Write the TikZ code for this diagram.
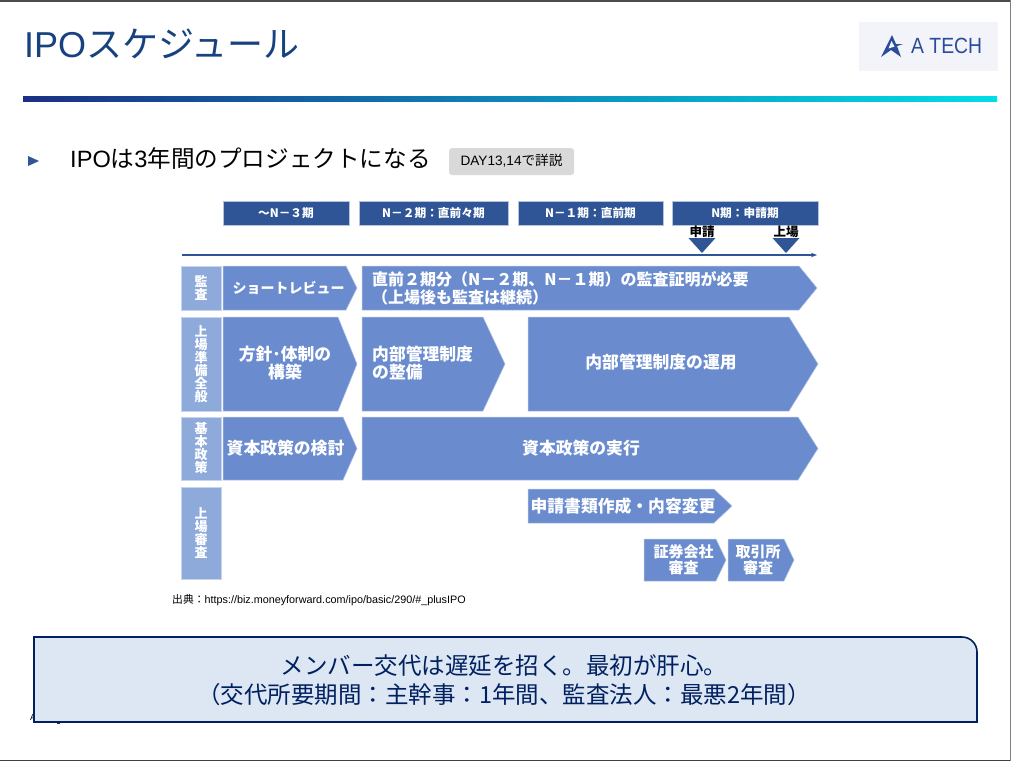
\documentclass[tikz,border=0pt]{standalone}
\usepackage{fontspec}
\setmainfont{Liberation Sans}
\newfontfamily\jpfont{Noto Sans CJK JP}
\newfontfamily\logofont[FakeStretch=0.88]{Liberation Sans}
\newcommand{\jp}[1]{{\jpfont #1}}
\newcommand{\tightlines}{\lineskiplimit=-20pt\relax}
\definecolor{acc}{HTML}{2F5597}
\definecolor{chev}{HTML}{6A8CCF}
\definecolor{side}{HTML}{8EAADB}
\definecolor{ttl}{HTML}{17427F}
\definecolor{navy}{HTML}{002060}
\definecolor{soft}{HTML}{DCE7F3}
\definecolor{logo}{HTML}{2B4B9B}
\definecolor{logobg}{HTML}{F2F4FA}
\definecolor{barl}{HTML}{1B2F85}
\definecolor{barr}{HTML}{00DDE8}
\usetikzlibrary{arrows.meta,positioning,calc}
\tikzset{
  hdr/.style={draw=acc!35,line width=0.5pt,fill=acc,text=white,font=\jpfont\bfseries\fontsize{11.7}{13}\selectfont,inner sep=0pt},
  sidebox/.style={draw=side!50,line width=0.5pt,fill=side,text=white,font=\jpfont\bfseries\fontsize{13}{13}\selectfont\tightlines,inner sep=0pt,align=center},
  chevbox/.style={draw=chev!50,line width=0.5pt,fill=chev},
  lab/.style={text=white,font=\jpfont\bfseries\fontsize{16.8}{18}\selectfont\tightlines,inner sep=0pt,align=center},
  smalllab/.style={lab,font=\jpfont\bfseries\fontsize{15}{16}\selectfont\tightlines},
  mrk/.style={font=\jpfont\bfseries\fontsize{12.5}{14}\selectfont,inner sep=0pt},
  tri/.style={fill=acc},
}
\begin{document}
\begin{tikzpicture}[x=1pt,y=-1pt]
\useasboundingbox (0,0) rectangle (1011,761);
\fill[white] (0,0) rectangle (1011,761);
\fill[black!70] (0,0) rectangle (1011,1.5);
\fill[black!75] (0,759.5) rectangle (1011,761);
\fill[black!50] (1010,0) rectangle (1011,761);
% title
\node[anchor=west,inner sep=0pt,text=ttl,font=\fontsize{36}{40}\selectfont] (title) at (24,44) {IPO\jp{スケジュール}};
\fill[left color=barl,right color=barr] (23,96) rectangle (997,101);
\fill[logobg] (859,22) rectangle (998,71);
\fill[logo] (892,35)--(881,57)--(891,50)--(901,57)--(897,46)--(903,44)--(896,44)--cycle;
\fill[logobg] (891.5,41)--(888.5,48.5)--(894.5,46.5)--cycle;
\node[anchor=west,inner sep=0pt,text=logo,font=\logofont\fontsize{22}{24}\selectfont] (tech) at (911,46) {A TECH};
% subtitle
\fill[acc] (28,156)--(39,161)--(28,166)--cycle;
\node[anchor=west,inner sep=0pt,font=\fontsize{23.6}{28}\selectfont] (sub) at (70,158) {IPO\jp{は}3\jp{年間のプロジェクトになる}};
\fill[black!15,rounded corners=3pt] (449,148) rectangle (574,175);
\node[inner sep=0pt,font=\fontsize{13.6}{15}\selectfont] (day) at (511.5,161) {DAY13,14\jp{で詳説}};
% period headers
\foreach \n/\l/\r/\t in {ha/223/349/～N－３期,hb/359/508/N－２期：直前々期,hc/518/663/N－１期：直前期,hd/672/818/N期：申請期}
  \node[hdr,minimum width=\r pt-\l pt,minimum height=24pt] (\n) at ({(\l+\r)/2},213) {\t};
\coordinate (axs) at (182,255);
\coordinate (axe) at (817,255);
\draw[acc,line width=1.3pt,-{Stealth[length=6pt,fill=navy]}] (axs)--(axe);
\foreach \n/\x/\t in {ma/702/申請,mb/786/上場}{
  \node[mrk] (\n) at (\x,231.5) {\t};
  \fill[tri] (\x-13.5,238)--(\x+13.5,238)--(\x,253)--cycle;
}
% side labels
\foreach \n/\t/\b/\s in {sa/266/310/{監\\査},sb/317/411/{上\\場\\準\\備\\全\\般},sc/417/480/{基\\本\\政\\策},sd/487/579/{上\\場\\審\\査}}
  \node[sidebox,minimum width=40pt,minimum height=\b pt-\t pt] (\n) at (201,{(\t+\b)/2}) {\s};
% chevrons: name, left, top, bottom, body end, tip
\foreach \n/\l/\t/\b/\e/\p in {ca/223/266/310/346/357,cb/362/266/310/799/817,cc/223/317/411/338/357,cd/362/317/411/483/505,ce/528/317/411/789/818,cf/223/417/480/343/357,cg/362/417/480/798/818,ch/528/489/523/714/732,ci/644/539/581/716/726,cj/728/539/581/784/794}
  \draw[chevbox] (\l,\t)--(\e,\t)--(\p,{(\t+\b)/2})--(\e,\b)--(\l,\b)--cycle;
\node[lab,font=\jpfont\bfseries\fontsize{14}{18}\selectfont] (la) at (288.5,288) {ショートレビュー};
\node[lab,anchor=west,align=left,font=\jpfont\bfseries\fontsize{16}{18}\selectfont\tightlines] (lb) at (372,288) {直前２期分（N－２期、N－１期）の監査証明が必要\\ （上場後も監査は継続）};
\node[lab] (lc) at (285,363) {方針･体制の\\構築};
\node[lab,align=left,anchor=west] (ld) at (372,363) {内部管理制度\\の整備};
\node[lab] (le) at (661,362) {内部管理制度の運用};
\node[lab] (lf) at (285.5,448) {資本政策の検討};
\node[lab] (lg) at (581,448) {資本政策の実行};
\node[lab] (lh) at (623,506) {申請書類作成・内容変更};
\node[smalllab] (li) at (683.5,559.5) {証券会社\\審査};
\node[smalllab] (lj) at (758,559.5) {取引所\\審査};
% source
\node[anchor=west,inner sep=0pt,font=\fontsize{10.8}{12}\selectfont] (src) at (172,600) {\jp{出典：}https://biz.moneyforward.com/ipo/basic/290/\#\_plusIPO};
% footer under the box
\node[anchor=west,inner sep=0pt,font=\fontsize{9}{10}\selectfont] (foot) at (30,717) {A};
\fill[black!80] (57,722) rectangle (60,724);
% summary box
\draw[navy,line width=1.6pt,fill=soft] (34,637)--(962,637) arc[start angle=-90,end angle=0,radius=15]--(977,722)--(34,722)--cycle;
\node[text=navy,inner sep=0pt,font=\jpfont\fontsize{23.5}{29}\selectfont,align=center] (msg) at (504,680) {メンバー交代は遅延を招く。最初が肝心。\\（交代所要期間：主幹事：1年間、監査法人：最悪2年間）};
\end{tikzpicture}
\end{document}
